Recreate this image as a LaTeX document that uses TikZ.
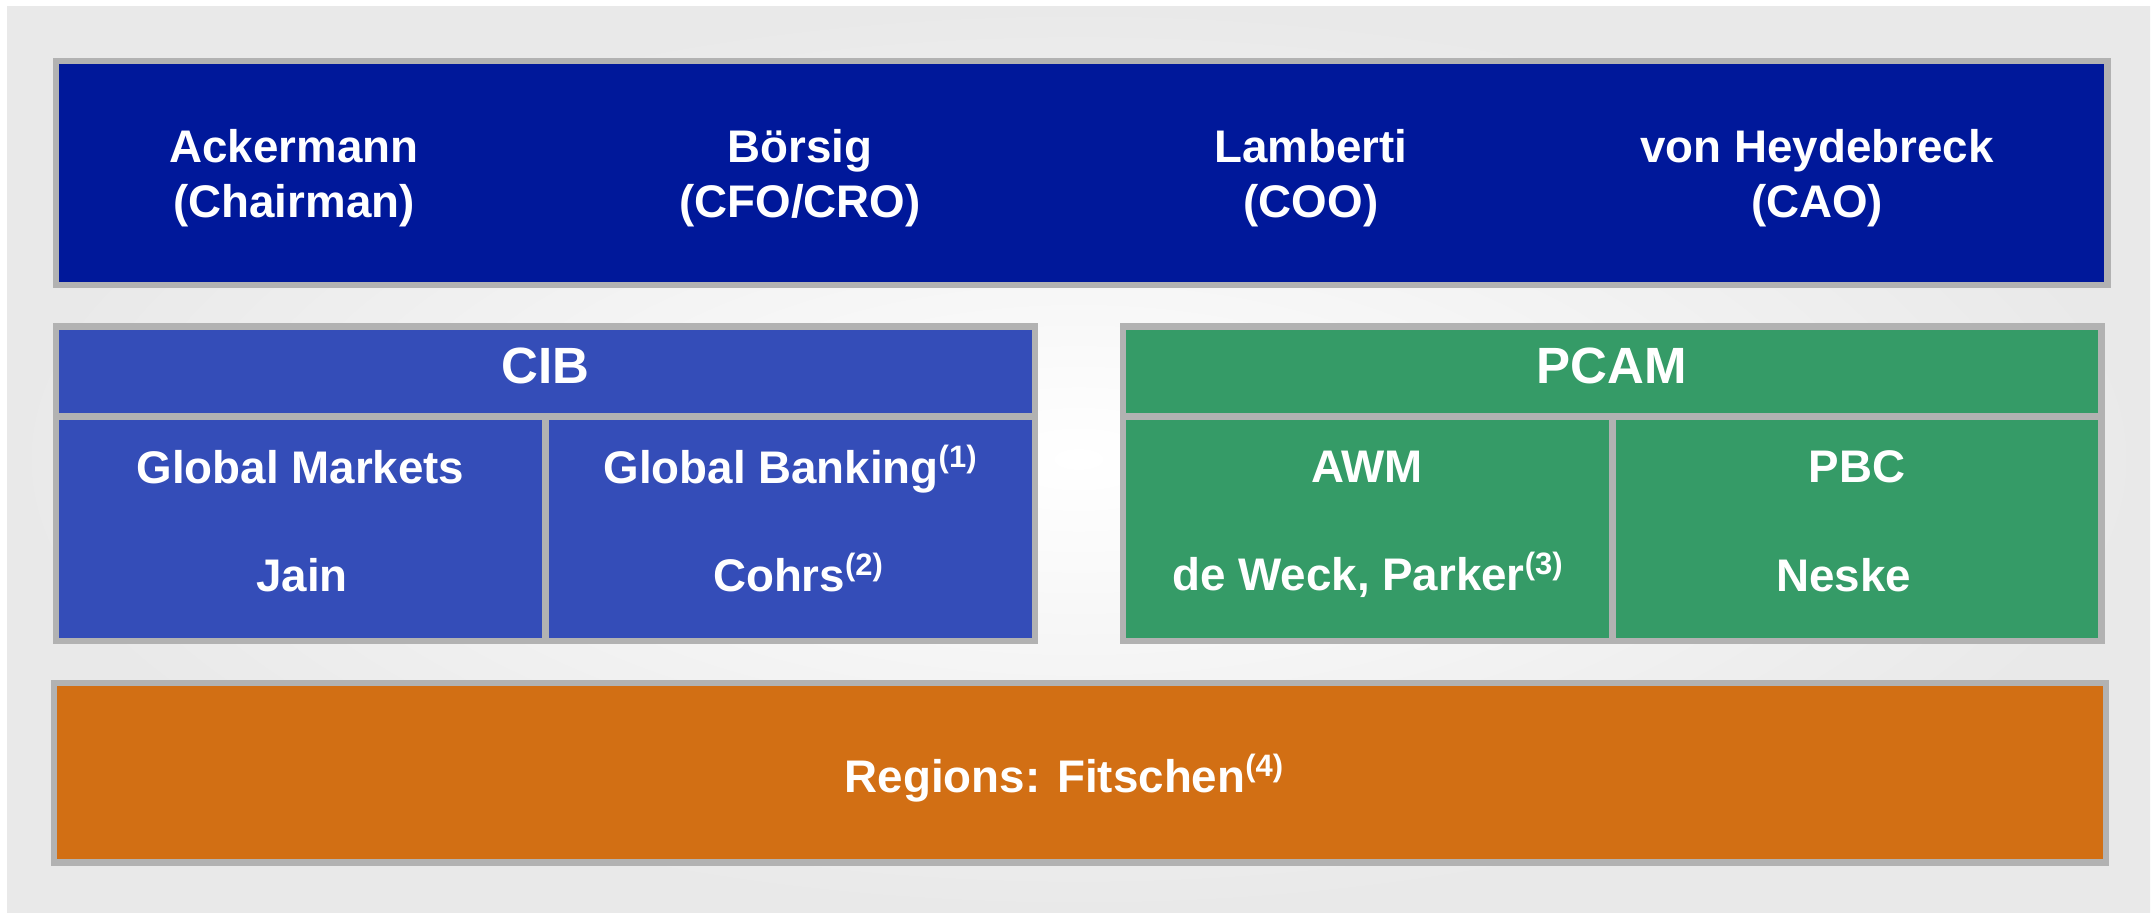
\documentclass[tikz,border=0pt]{standalone}
\usepackage{fontspec}
\setmainfont{Liberation Sans}
\usetikzlibrary{fit}

\definecolor{panelgray}{HTML}{E9E9E9}
\definecolor{framegray}{HTML}{B2B2B2}
\definecolor{boardblue}{HTML}{00189A}
\definecolor{cibblue}{HTML}{344DB8}
\definecolor{pcamgreen}{HTML}{359B67}
\definecolor{regionorange}{HTML}{D26F14}

% footnote marker set as a small raised number in brackets
\newcommand{\fnmark}[1]{\raisebox{4.4pt}{\fontsize{8.8}{8.8}\selectfont(#1)}}

\begin{document}
\begin{tikzpicture}[x=0.01cm, y=-0.01cm,
  frame/.style={rectangle, fill=framegray, draw=none, inner sep=0pt, outer sep=0pt},
  cell/.style={rectangle, draw=none, inner sep=0pt, outer sep=0pt},
  label/.style={text=white, anchor=base, inner sep=0pt,
    font=\bfseries\fontsize{13}{13}\selectfont},
  headlabel/.style={label, font=\bfseries\fontsize{14.5}{14.5}\selectfont}]

  % page and soft background panel
  \useasboundingbox[fill=white] (0,0) rectangle (2152,915);
  \shade[inner color=white, outer color=panelgray] (7,6) rectangle (2150,912);

  % grey frames behind the coloured blocks
  \node[frame, fit={(53,58) (2111,288)}] (boardframe) {};
  \node[frame, fit={(53,323) (1038,644)}] (cibframe) {};
  \node[frame, fit={(1120,323) (2105,644)}] (pcamframe) {};
  \node[frame, fit={(51,680) (2109,866)}] (regionframe) {};

  % management board
  \node[cell, fill=boardblue, fit={(59,64) (2104,282)}] (board) {};

  % CIB division
  \node[cell, fill=cibblue, fit={(59,330) (1032,413)}] (cib) {};
  \node[cell, fill=cibblue, fit={(59,420) (542,638)}] (gmcell) {};
  \node[cell, fill=cibblue, fit={(549,420) (1032,638)}] (gbcell) {};

  % PCAM division
  \node[cell, fill=pcamgreen, fit={(1126,330) (2098,413)}] (pcam) {};
  \node[cell, fill=pcamgreen, fit={(1126,420) (1609,638)}] (awmcell) {};
  \node[cell, fill=pcamgreen, fit={(1616,420) (2098,638)}] (pbccell) {};

  % regions
  \node[cell, fill=regionorange, fit={(57,686) (2103,859)}] (regions) {};

  % board members
  \node[label] (ack)  at (294,162)  {Ackermann};
  \node[label] (ackr) at (294,217)  {(Chairman)};
  \node[label] (bor)  at (800,162)  {Börsig};
  \node[label] (borr) at (800,217)  {(CFO/CRO)};
  \node[label] (lam)  at (1311,162) {Lamberti};
  \node[label] (lamr) at (1311,217) {(COO)};
  \node[label] (hey)  at (1817,162) {von Heydebreck};
  \node[label] (heyr) at (1817,217) {(CAO)};

  % division headers
  \node[headlabel] (cibtxt)  at (545.5,383) {CIB};
  \node[headlabel] (pcamtxt) at (1612,383)  {PCAM};

  % business lines and heads
  \node[label] (gm)    at (300.5,483) {Global Markets};
  \node[label] (jain)  at (302,591)   {Jain};
  \node[label] (gb)    at (790,483)   {Global Banking\fnmark{1}};
  \node[label] (cohrs) at (798,591)   {Cohrs\fnmark{2}};
  \node[label] (awm)   at (1367,482)  {AWM};
  \node[label] (weck)  at (1367.5,590) {de Weck, Parker\fnmark{3}};
  \node[label] (pbc)   at (1857,482)  {PBC};
  \node[label] (neske) at (1843.5,591) {Neske};

  % regional management
  \node[label] (fitschen) at (1064,792) {Regions: Fitschen\fnmark{4}};
\end{tikzpicture}
\end{document}
